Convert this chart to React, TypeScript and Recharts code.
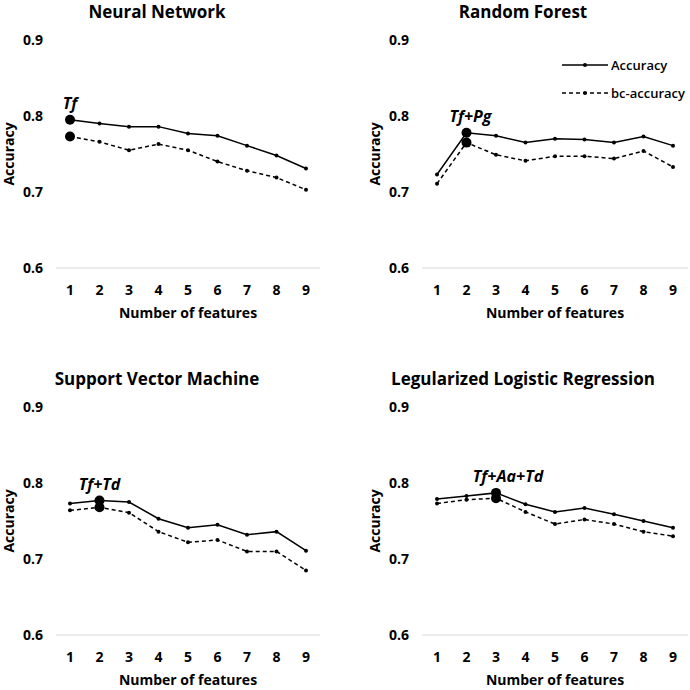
import React from "react";
import { LineChart, Line, XAxis, YAxis, Legend, LabelList } from "recharts";

const FEATURES = [1, 2, 3, 4, 5, 6, 7, 8, 9];
const Y_TICKS = [0.6, 0.7, 0.8, 0.9];

const nnAccuracy = [0.795, 0.79, 0.786, 0.786, 0.777, 0.774, 0.761, 0.748, 0.731];
const nnBcAccuracy = [0.773, 0.766, 0.755, 0.763, 0.755, 0.74, 0.728, 0.719, 0.703];

const rfAccuracy = [0.723, 0.778, 0.774, 0.765, 0.77, 0.769, 0.765, 0.773, 0.761];
const rfBcAccuracy = [0.711, 0.765, 0.749, 0.741, 0.747, 0.747, 0.744, 0.754, 0.733];

const svmAccuracy = [0.773, 0.777, 0.775, 0.753, 0.741, 0.745, 0.732, 0.736, 0.711];
const svmBcAccuracy = [0.764, 0.768, 0.761, 0.736, 0.722, 0.725, 0.71, 0.71, 0.685];

const lrAccuracy = [0.779, 0.783, 0.787, 0.772, 0.762, 0.767, 0.759, 0.75, 0.741];
const lrBcAccuracy = [0.773, 0.778, 0.78, 0.762, 0.746, 0.752, 0.746, 0.736, 0.73];

const FONT = "'Open Sans', sans-serif";
const DASH = "4 3";
const TICK_STYLE = { fill: "#000", fontSize: 14, fontWeight: 700, fontFamily: FONT };

type PanelProps = {
  title: string;
  acc: number[];
  bc: number[];
  best: number; // index of the highlighted feature count
  note: string;
  noteDx?: number;
  left: number;
  top: number;
  pad: number;
  legend?: boolean;
};

function renderLegend(props: any) {
  const items = props.payload || [];
  return (
    <div style={{ fontFamily: FONT, fontSize: 13, fontWeight: 600, color: "#000" }}>
      {items.map((e: any) => (
        <div key={e.value} style={{ display: "flex", alignItems: "center", height: 28 }}>
          <svg width={46} height={10}>
            <line
              x1={0}
              y1={5}
              x2={46}
              y2={5}
              stroke="#000"
              strokeWidth={1.5}
              strokeDasharray={e.dataKey === "bc" ? DASH : undefined}
            />
            <circle cx={23} cy={5} r={2} fill="#000" />
          </svg>
          <span style={{ marginLeft: 3, whiteSpace: "nowrap" }}>{e.value}</span>
        </div>
      ))}
    </div>
  );
}

function Panel({ title, acc, bc, best, note, noteDx = 0, left, top, pad, legend }: PanelProps) {
  const rows = FEATURES.map((n, i) => ({ n, acc: acc[i], bc: bc[i] }));

  const dot = (p: any) => (
    <circle key={`d-${p.index}`} cx={p.cx} cy={p.cy} r={p.index === best ? 5 : 2} fill="#000" />
  );

  const noteLabel = (p: any) =>
    p.index === best ? (
      <text
        x={p.x + noteDx}
        y={p.y - 15}
        textAnchor="middle"
        dominantBaseline="middle"
        fill="#000"
        fontSize={16}
        fontWeight={700}
        fontStyle="italic"
        fontFamily={FONT}
      >
        {note}
      </text>
    ) : null;

  const edge = pad ? 15 : 14;

  return (
    <div style={{ position: "absolute", left, top, width: 345, height: 330 }}>
      <div
        style={{
          position: "absolute",
          left: pad,
          top: 4,
          width: 314,
          textAlign: "center",
          fontFamily: FONT,
          fontWeight: 700,
          fontSize: 17,
          lineHeight: "15px",
          whiteSpace: "nowrap",
        }}
      >
        {title}
      </div>
      <LineChart
        width={345}
        height={330}
        data={rows}
        margin={{ top: 40, right: pad ? 2 : 25, left: pad, bottom: 12 }}
      >
        <XAxis
          dataKey="n"
          height={50}
          padding={{ left: edge, right: edge }}
          tickLine={false}
          axisLine={{ stroke: "#d9d9d9" }}
          tick={TICK_STYLE}
          tickMargin={11}
          label={{
            value: "Number of features",
            position: "insideBottom",
            offset: 0,
            style: { fill: "#000", fontSize: 14, fontWeight: 700, fontFamily: FONT },
          }}
        />
        <YAxis
          width={56}
          domain={[0.6, 0.9]}
          ticks={Y_TICKS}
          tickFormatter={(v: number) => v.toFixed(1)}
          axisLine={false}
          tickLine={false}
          tick={TICK_STYLE}
          tickMargin={7}
          label={{
            value: "Accuracy",
            angle: -90,
            position: "insideLeft",
            offset: 9,
            style: { textAnchor: "middle", fill: "#000", fontSize: 14, fontWeight: 700, fontFamily: FONT },
          }}
        />
        {legend && (
          <Legend
            layout="vertical"
            align="center"
            verticalAlign="middle"
            content={renderLegend}
            wrapperStyle={{ left: 217, top: 51, width: 130 }}
          />
        )}
        <Line
          name="Accuracy"
          dataKey="acc"
          stroke="#000"
          strokeWidth={1.5}
          dot={dot}
          activeDot={false}
          isAnimationActive={false}
        >
          <LabelList dataKey="acc" content={noteLabel} />
        </Line>
        <Line
          name="bc-accuracy"
          dataKey="bc"
          stroke="#000"
          strokeWidth={1.5}
          strokeDasharray={DASH}
          dot={dot}
          activeDot={false}
          isAnimationActive={false}
        />
      </LineChart>
    </div>
  );
}

export default function App() {
  return (
    <div
      style={{
        position: "absolute",
        left: 0,
        top: 0,
        width: 690,
        height: 690,
        background: "#fff",
        overflow: "hidden",
      }}
    >
      <Panel title="Neural Network" acc={nnAccuracy} bc={nnBcAccuracy} best={0} note="Tf" left={0} top={0} pad={0} />
      <Panel
        title="Random Forest"
        acc={rfAccuracy}
        bc={rfBcAccuracy}
        best={1}
        note="Tf+Pg"
        noteDx={4}
        left={345}
        top={0}
        pad={21}
        legend
      />
      <Panel
        title="Support Vector Machine"
        acc={svmAccuracy}
        bc={svmBcAccuracy}
        best={1}
        note="Tf+Td"
        left={0}
        top={367}
        pad={0}
      />
      <Panel
        title="Legularized Logistic Regression"
        acc={lrAccuracy}
        bc={lrBcAccuracy}
        best={2}
        note="Tf+Aa+Td"
        noteDx={12}
        left={345}
        top={367}
        pad={21}
      />
    </div>
  );
}
